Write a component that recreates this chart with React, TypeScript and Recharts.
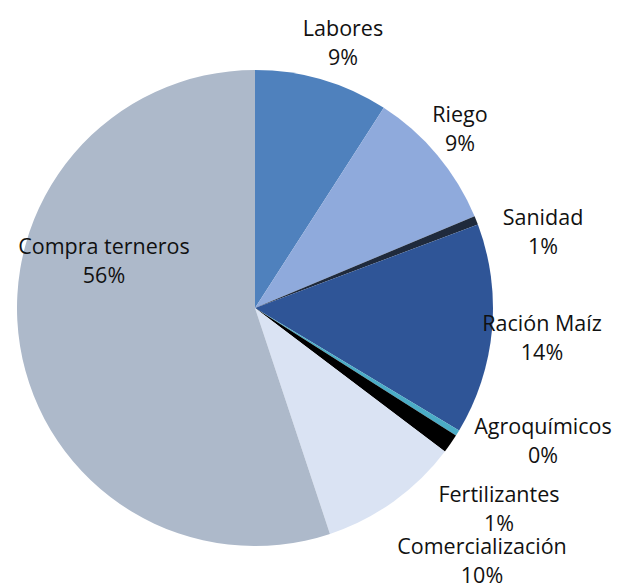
import { Cell, Pie, PieChart } from "recharts";

const CATEGORIES = [
  "Labores",
  "Riego",
  "Sanidad",
  "Ración Maíz",
  "Agroquímicos",
  "Fertilizantes",
  "Comercialización",
  "Compra terneros",
];

const SHARES = [9.1, 9.6, 0.6, 14.3, 0.4, 1.3, 9.6, 55.1];

const PERCENT_LABELS = ["9%", "9%", "1%", "14%", "0%", "1%", "10%", "56%"];

const SLICE_COLORS = [
  "#4f81bd",
  "#8faadc",
  "#1f2a3c",
  "#2f5597",
  "#4bacc6",
  "#000000",
  "#dae3f3",
  "#adb9ca",
];

// label anchor (centre of the first line), picked to match the original layout
const LABEL_ANCHORS: [number, number][] = [
  [343, 27],
  [460, 113],
  [543, 216],
  [542, 322],
  [543, 425],
  [499, 493],
  [482, 545],
  [104, 245],
];

const pieData = CATEGORIES.map((name, i) => ({ name, value: SHARES[i] }));

function SliceLabel(props: any) {
  const { index } = props;
  const [x, y] = LABEL_ANCHORS[index];
  return (
    <text
      x={x}
      y={y}
      textAnchor="middle"
      dominantBaseline="central"
      fill="#111"
      fontSize={21.5}
      fontFamily="'Open Sans', sans-serif"
    >
      <tspan x={x} dy={0}>
        {CATEGORIES[index]}
      </tspan>
      <tspan x={x} dy={29}>
        {PERCENT_LABELS[index]}
      </tspan>
    </text>
  );
}

export default function App() {
  return (
    <div style={{ position: "absolute", left: 0, top: 0, width: 637, height: 585, background: "#fff" }}>
      <PieChart width={637} height={585} margin={{ top: 0, right: 0, bottom: 0, left: 0 }}>
        <Pie
          data={pieData}
          dataKey="value"
          nameKey="name"
          cx={255}
          cy={308}
          outerRadius={238}
          startAngle={90}
          endAngle={-270}
          stroke="none"
          label={SliceLabel}
          labelLine={false}
          isAnimationActive={false}
        >
          {pieData.map((entry, i) => (
            <Cell key={entry.name} fill={SLICE_COLORS[i]} />
          ))}
        </Pie>
      </PieChart>
    </div>
  );
}
